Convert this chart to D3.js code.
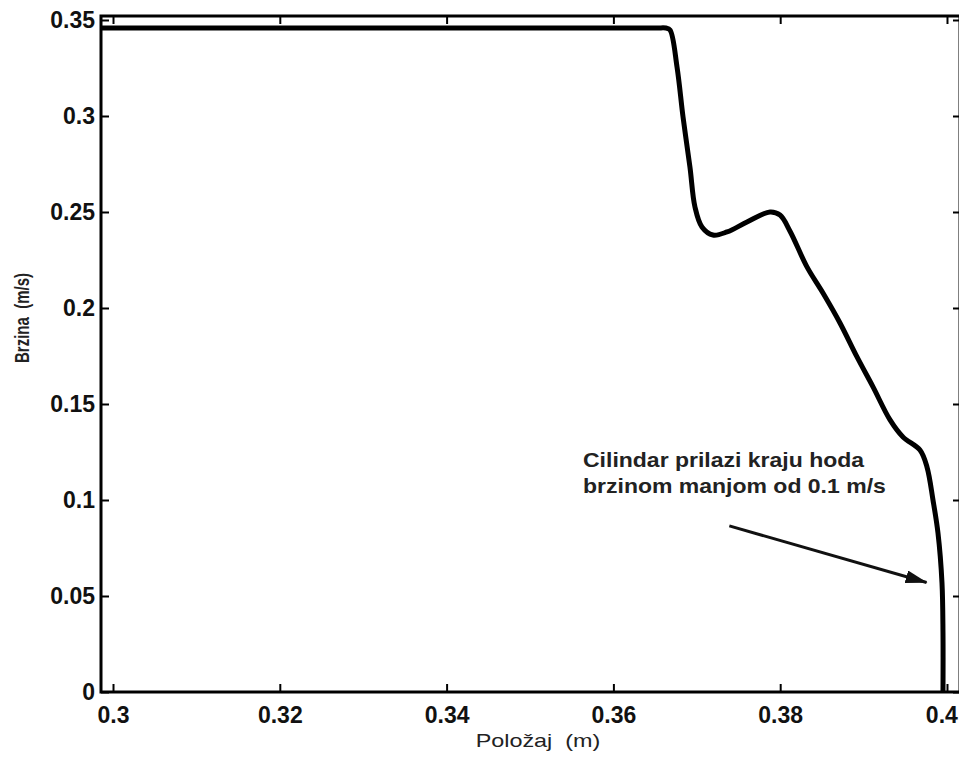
<!DOCTYPE html>
<html>
<head>
<meta charset="utf-8">
<script src="https://cdn.jsdelivr.net/npm/d3@7"></script>
<style>
  html, body { margin: 0; padding: 0; background: #fff; }
  svg { display: block; }
  text { font-family: "Liberation Sans", Arial, Helvetica, sans-serif; }
</style>
</head>
<body>
<svg id="chart" width="959" height="760"></svg>
<script>
// ---- data ----
const positionX = [0.29856, 0.3650, 0.3663, 0.36679, 0.36763, 0.36835, 0.36918, 0.36978, 0.37062, 0.37194,
                   0.37362, 0.37602, 0.37878, 0.37998, 0.38118, 0.38321, 0.38513, 0.38717, 0.38921, 0.39113,
                   0.39317, 0.39472, 0.39676, 0.39760, 0.39832, 0.39892, 0.39940, 0.39952, 0.39952];
const speedY    = [0.3458, 0.3458, 0.3458, 0.3448, 0.3255, 0.2995, 0.2734, 0.2526, 0.2422, 0.2380,
                   0.2396, 0.2448, 0.2500, 0.2484, 0.2400, 0.2214, 0.2078, 0.1922, 0.1745, 0.1589,
                   0.1417, 0.1328, 0.1260, 0.1172, 0.1000, 0.0828, 0.0568, 0.0307, 0.0];
const xTicks = [0.3, 0.32, 0.34, 0.36, 0.38, 0.4];
const xTickLabels = ["0.3", "0.32", "0.34", "0.36", "0.38", "0.4"];
const yTicks = [0, 0.05, 0.1, 0.15, 0.2, 0.25, 0.3, 0.35];
const yTickLabels = ["0", "0.05", "0.1", "0.15", "0.2", "0.25", "0.3", "0.35"];
const xDomain = [0.29856, 0.40156];
const yDomain = [0, 0.35208];
const xTitle = "Položaj  (m)";
const yTitle = "Brzina  (m/s)";
const noteLines = ["Cilindar prilazi kraju hoda", "brzinom manjom od 0.1 m/s"];
const arrowFrom = [0.3739, 0.0865];
const arrowTo = [0.39755, 0.0570];

// ---- layout ----
const svg = d3.select("#chart");
const W = 959;
const L = 101, R = 960, T = 16, B = 692;
const x = d3.scaleLinear().domain(xDomain).range([L, R]);
const y = d3.scaleLinear().domain(yDomain).range([B, T]);

const tickFont = "bold 23px 'Liberation Sans', Arial, sans-serif";

// bottom axis
const gx = svg.append("g").attr("transform", `translate(0,${B})`)
  .call(d3.axisBottom(x).tickValues(xTicks).tickFormat((d, i) => xTickLabels[i])
        .tickSizeInner(-8).tickSizeOuter(0).tickPadding(15));
// left axis
const gy = svg.append("g").attr("transform", `translate(${L},0)`)
  .call(d3.axisLeft(y).tickValues(yTicks).tickFormat((d, i) => yTickLabels[i])
        .tickSizeInner(-8).tickSizeOuter(0).tickPadding(6));
// top & right axes (ticks only)
const gt = svg.append("g").attr("transform", `translate(0,${T})`)
  .call(d3.axisTop(x).tickValues(xTicks).tickFormat("").tickSizeInner(-8).tickSizeOuter(0));
const gr = svg.append("g").attr("transform", `translate(${R},0)`)
  .call(d3.axisRight(y).tickValues(yTicks).tickFormat("").tickSizeInner(-7).tickSizeOuter(0));

[gx, gy, gt, gr].forEach(g => {
  g.select(".domain").remove();
  g.selectAll(".tick line").attr("stroke", "#000").attr("stroke-width", 2);
  g.selectAll(".tick text").style("font", tickFont).attr("fill", "#111");
});

// keep the last x label inside the window (it sits at the right edge)
gx.selectAll(".tick text").each(function () {
  const t = d3.select(this);
  const bb = this.getBBox();
  const tickX = +this.parentNode.getAttribute("transform").match(/translate\(([-\d.]+)/)[1];
  const right = tickX + bb.x + bb.width;
  if (right > W - 1) t.attr("x", (W - 1) - right);
});

// frame
svg.append("rect").attr("x", L).attr("y", T).attr("width", R - L).attr("height", B - T)
  .attr("fill", "none").attr("stroke", "#000").attr("stroke-width", 3);

// curve
const pts = positionX.map((v, i) => [v, speedY[i]]);
svg.append("path").datum(pts)
  .attr("fill", "none").attr("stroke", "#000").attr("stroke-width", 5)
  .attr("stroke-linejoin", "round").attr("stroke-linecap", "butt")
  .attr("d", d3.line().x(d => x(d[0])).y(d => y(d[1])).curve(d3.curveCatmullRom.alpha(0.5)));

// axis titles (horizontally stretched like the reference)
svg.append("text")
  .attr("transform", `translate(${538},${747}) scale(1.3,1)`)
  .attr("text-anchor", "middle").style("white-space", "pre")
  .style("font-size", "18px").attr("fill", "#222").text(xTitle);
svg.append("text")
  .attr("transform", `translate(${29},${318}) scale(1.3,1) rotate(-90)`)
  .attr("text-anchor", "middle").style("white-space", "pre")
  .style("font-size", "15px").style("font-weight", "bold").attr("fill", "#222").text(yTitle);

// annotation
const note = svg.append("text").attr("fill", "#222")
  .style("font-size", "20px").style("font-weight", "bold");
noteLines.forEach((t, i) => {
  note.append("tspan").attr("x", 0).attr("y", i * 26).text(t);
});
note.attr("transform", `translate(583,467) scale(1.15,1)`);

// arrow
svg.append("defs").append("marker")
  .attr("id", "ah").attr("viewBox", "0 0 22 13").attr("refX", 21).attr("refY", 6.5)
  .attr("markerWidth", 22).attr("markerHeight", 13).attr("markerUnits", "userSpaceOnUse")
  .attr("orient", "auto")
  .append("path").attr("d", "M0,0 L22,6.5 L0,13 Z").attr("fill", "#111");
svg.append("line")
  .attr("x1", x(arrowFrom[0])).attr("y1", y(arrowFrom[1]))
  .attr("x2", x(arrowTo[0])).attr("y2", y(arrowTo[1]))
  .attr("stroke", "#111").attr("stroke-width", 3).attr("marker-end", "url(#ah)");
</script>
</body>
</html>
